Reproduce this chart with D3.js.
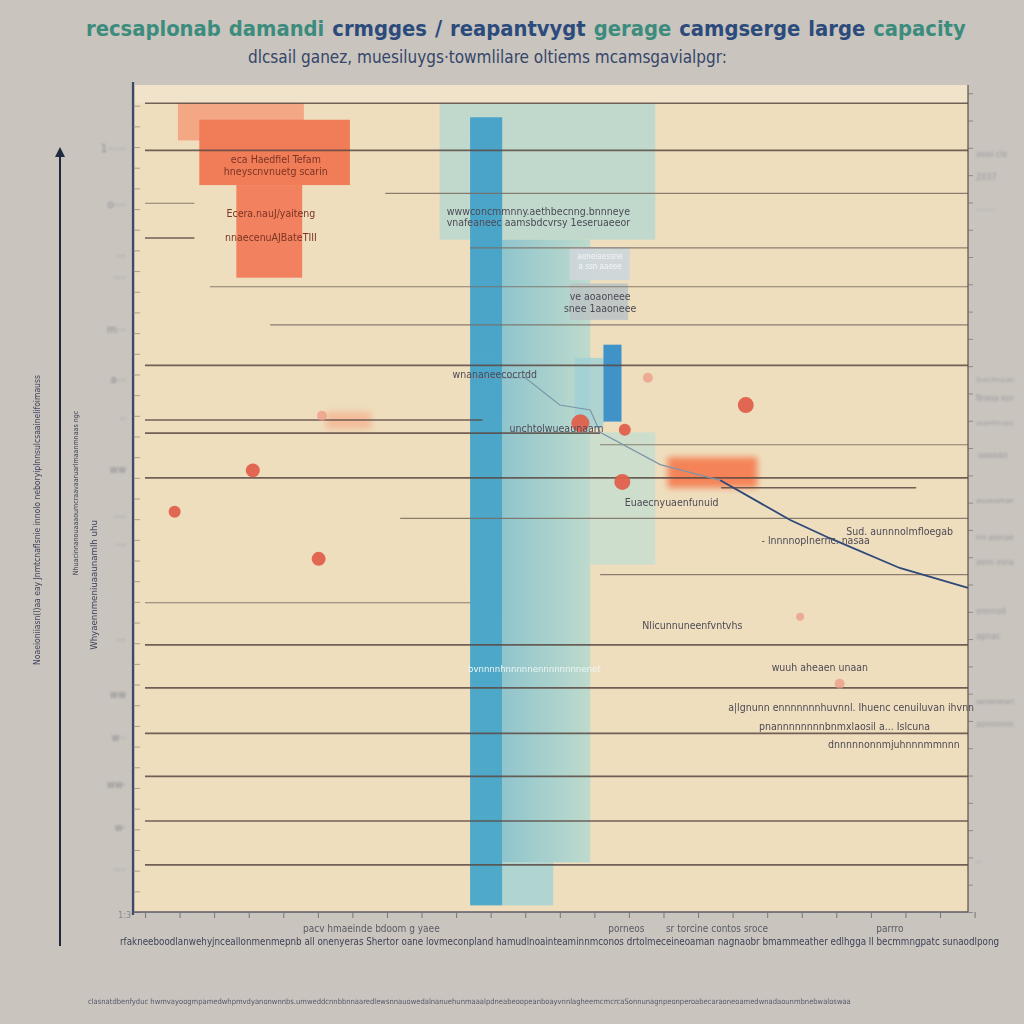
<!DOCTYPE html>
<html><head><meta charset="utf-8">
<script src="https://cdn.jsdelivr.net/npm/d3@7"></script>
<style>html,body{margin:0;padding:0;background:#c9c4bd;}svg{display:block;}</style>
</head><body>
<svg id="c" width="1024" height="1024"></svg>
<script>
// ---------- DATA (data units 0..100 on both axes) ----------
const titleParts = [
  {t:"recsaplonab", c:"teal"}, {t:"damandi", c:"teal"}, {t:"crmgges", c:"navy"},
  {t:"/", c:"navy"}, {t:"reapantvygt", c:"navy"}, {t:"gerage", c:"teal"},
  {t:"camgserge", c:"navy"}, {t:"large", c:"navy"}, {t:"capacity", c:"teal"}
];
const subtitle = "dlcsail ganez,  muesiluygs·towmlilare  oltiems  mcamsgavialpgr:";

const gridY     = [97.8, 92.1, 86.9, 85.7, 81.5, 80.3, 75.6, 71.0, 66.1, 59.5, 57.9, 56.5, 52.5, 51.3, 47.6, 40.8, 37.4, 32.3, 27.1, 21.6, 16.4, 11.0, 5.7];
const gridStart = [0,    0,    29.2, 0,    0,    39.5, 7.9,  15.2, 0,    0,    0,    55.3, 0,    70.0, 31.0, 55.3, 0,    0,    0,    0,    0,    0,    0];
const gridEnd   = [100,  100,  100,  6.0,  6.0,  100,  100,  100,  100,  41.0, 55.3, 100,  100,  93.7, 100,  100,  39.5, 100,  100,  100,  100,  100,  100];
const gridHeavy = [1,    1,    0,    0,    1,    0,    0,    0,    1,    1,    1,    0,    1,    1,    0,    0,    0,    1,    1,    1,    1,    1,    1];

// bars: [x0, x1, yTop, yBottom]
const barNames  = ["tealBack","orangeLight","orangeMain","orangeLow","tealWide","tealLow","blueMain","blueRight","blueSmallBack","blueSmall","orangeBlur","orangeFaint","grayBox1","grayBox2"];
const barX0     = [35.8, 4.0,  6.6,  11.1, 43.4, 43.4, 39.5, 54.1, 52.2, 55.7, 63.5, 22.0, 51.6, 51.6];
const barX1     = [62.0, 19.3, 24.9, 19.1, 54.1, 49.6, 43.4, 62.0, 55.7, 57.9, 74.4, 27.5, 58.9, 58.7];
const barTop    = [97.8, 97.8, 95.8, 87.9, 81.3, 6.0,  96.1, 58.0, 67.0, 68.6, 55.0, 60.5, 80.4, 76.0];
const barBottom = [81.3, 93.3, 87.9, 76.7, 6.0,  0.8,  0.8,  42.0, 58.5, 59.3, 51.3, 58.4, 76.4, 71.6];

// line series
const lineAX = [39.5, 46.2, 50.4, 54.1, 55.3, 62.6, 69.9];
const lineAY = [64.6, 64.6, 61.3, 60.7, 58.0, 54.1, 52.2];
const lineBX = [69.9, 78.4, 83.2, 91.7, 100];
const lineBY = [52.2, 47.4, 45.2, 41.6, 39.2];

// dots
const dotX = [3.6,  13.1, 21.1, 52.9, 58.3, 58.0, 73.0, 61.1, 21.5, 84.4, 79.6];
const dotY = [48.4, 53.4, 42.7, 59.1, 58.3, 52.0, 61.3, 64.6, 60.0, 27.6, 35.7];
const dotR = [6,    7,    7,    9,    6,    8,    8,    5,    5,    5,    4];
const dotFaint = [0,0,0,0,0,0,0,1,1,1,1];

// annotations
const annText = ["eca Haedfiel Tefam","hneyscnvnuetg scarin","Ecera.nauJ/yaiteng","nnaecenuAJBateTIII",
  "wwwconcmmnny.aethbecnng.bnnneye","vnafeaneec aamsbdcvrsy 1eseruaeeor","ve aoaoneee","snee 1aaoneee",
  "wnananeecocrtdd","unchtolwueaunaarn","Euaecnyuaenfunuid","Sud. aunnnolmfloegab","- lnnnnoplnernc. nasaa",
  "Nlicunnuneenfvntvhs","bvnnnnhnnnnnennnnnnnnenet","wuuh aheaen unaan",
  "a|lgnunn ennnnnnnhuvnnl. Ihuenc cenuiluvan ihvnn","pnannnnnnnnbnmxlaosil  a... Islcuna","dnnnnnonnmjuhnnnmmnnn",
  "aeneiaessne","a ssn aaeee"];
const annX = [15.9, 15.9, 15.3, 15.3, 47.8, 47.8, 55.3, 55.3, 42.5, 50.0, 64.0, 91.7, 81.5, 66.5, 47.3, 82.0, 85.8, 85.0, 91.0, 55.3, 55.3];
const annY = [90.6, 89.1, 84.0, 81.1, 84.3, 82.9, 74.0, 72.6, 64.6, 58.0, 49.1, 45.6, 44.5, 34.2, 29.0, 29.2, 24.3, 22.0, 19.8, 79.0, 77.8];

const leftTickLabels = ["1\u00b7\u00b7\u00b7\u00b7\u00b7\u00b7","o\u00b7\u00b7\u00b7\u00b7","\u00b7\u00b7\u00b7","\u00b7\u00b7\u00b7\u00b7","m\u00b7\u00b7\u00b7","a\u00b7\u00b7\u00b7","\u00b7\u00b7","ww","\u00b7\u00b7\u00b7\u00b7","\u00b7\u00b7\u00b7","\u00b7\u00b7\u00b7","ww","w\u00b7\u00b7","ww\u00b7","w\u00b7","\u00b7\u00b7\u00b7\u00b7"];
const leftTickY = [92.4, 85.6, 79.5, 76.8, 70.5, 64.5, 59.7, 53.6, 47.9, 44.5, 33.0, 26.4, 21.2, 15.5, 10.3, 5.2];
const rightTickLabels = ["aeoi cle","2037","\u00b7\u00b7\u00b7\u00b7\u00b7\u00b7\u00b7","Dvscrlrnscan","Nnesa esn","aeaarhhnvgry","\u00b7aasean","asuasaman","rrn  aesnae","aonn  esna","ennnsd","apnac","aaisenesan","aonnnnnn","\u00b7\u00b7"];
const rightTickY = [91.8, 89.0, 85.0, 64.6, 62.3, 59.4, 55.4, 50.0, 45.5, 42.5, 36.5, 33.5, 25.6, 22.8, 6.2];
const xTickLabels = ["pacv hmaeinde bdoom g yaee","porneos","sr torcine contos sroce","parrro"];
const xTickX = [27.5, 58.5, 69.5, 90.5];
const xLongLabel = "rfakneeboodlanwehyjnceallonmenmepnb all onenyeras  Shertor oane  lovmeconpland hamudlnoainteaminnmconos drtolmeceineoaman nagnaobr bmammeather edlhgga ll becmmngpatc sunaodlpong";
const footer = "clasnatdbenfyduc hwmvayoogmpamedwhpmvdyanonwnnbs.umweddcnnbbnnaaredlewsnnauowedalnanuehunmaaalpdneabeoopeanboayvnnlagheemcmcrcaSonnunagnpeonperoabecaraoneoamedwnadaounmbnebwaloswaa";
const yLabels = ["Noaeioniiasn(l)aa eay Jnmtcnaflsnie innolo neboryiplnnsulcsaainelifoimauss","Nhuacinnanouaaaoumcraavaaruarlmaanmnaas ngc","Whyaennmeniuaaunamlh uhu"];

// ---------- DRAWING ----------
const svg = d3.select("#c");
const W = 1024, H = 1024;
const P = {l:145, r:968, t:85, b:912};
const x = d3.scaleLinear().domain([0,100]).range([P.l, P.r]);
const y = d3.scaleLinear().domain([0,100]).range([P.b, P.t]);
const FN = "'Liberation Sans Narrow','DejaVu Sans Condensed','Liberation Sans',sans-serif";
const COL = {teal:"#3c8c7e", navy:"#2b4b7c"};

function fitSize(sel, width){ sel.each(function(){ const fs=+d3.select(this).attr("font-size"); const L=this.getComputedTextLength(); if(L>width) d3.select(this).attr("font-size", fs*width/L); }); }

const defs = svg.append("defs");
function blur(id, s){ defs.append("filter").attr("id",id).attr("x","-20%").attr("y","-50%").attr("width","140%").attr("height","200%")
  .append("feGaussianBlur").attr("stdDeviation",s); }
blur("b1",1.2); blur("b2",0.5); blur("b3",3);
const gBlue = defs.append("linearGradient").attr("id","gBlue").attr("x1",0).attr("x2",0).attr("y1",0).attr("y2",1);
gBlue.append("stop").attr("offset","0").attr("stop-color","#4aa4c9");
gBlue.append("stop").attr("offset","1").attr("stop-color","#4fa9c8");
const gTeal = defs.append("linearGradient").attr("id","gTeal").attr("x1",0).attr("x2",1);
gTeal.append("stop").attr("offset","0").attr("stop-color","#7fc0cf");
gTeal.append("stop").attr("offset","1").attr("stop-color","#b5dacf");

svg.append("rect").attr("width",W).attr("height",H).attr("fill","#c9c4bd");

svg.append("rect").attr("x",135).attr("y",P.t).attr("width",P.r-135).attr("height",P.b-P.t).attr("fill","#eedebe");
svg.append("rect").attr("x",135).attr("y",P.t).attr("width",P.r-135).attr("height",y(97.8)-P.t).attr("fill","#f0e3c9");

const barFill = {tealBack:"#b7d8cf",orangeLight:"#f3a784",orangeMain:"#f17c58",orangeLow:"#f2815f",tealWide:"url(#gTeal)",tealLow:"#a8d4d2",
  blueMain:"url(#gBlue)",blueRight:"#bfded2",blueSmallBack:"#9fcfd6",blueSmall:"#3f93c8",orangeBlur:"#f57a4e",orangeFaint:"#f4b08c",
  grayBox1:"#cdd6da",grayBox2:"#bac4c4"};
const barOp = {tealBack:0.85,orangeLight:1,orangeMain:1,orangeLow:1,tealWide:0.85,tealLow:0.9,blueMain:1,blueRight:0.7,blueSmallBack:0.8,blueSmall:1,orangeBlur:0.9,orangeFaint:0.7,grayBox1:0.95,grayBox2:0.9};
const bars = barNames.map((n,i)=>({n, x0:barX0[i], x1:barX1[i], t:barTop[i], b:barBottom[i]}));
svg.append("g").selectAll("rect").data(bars).join("rect")
  .attr("x",d=>x(d.x0)).attr("y",d=>y(d.t)).attr("width",d=>x(d.x1)-x(d.x0)).attr("height",d=>y(d.b)-y(d.t))
  .attr("fill",d=>barFill[d.n]).attr("opacity",d=>barOp[d.n])
  .attr("filter",d=>(d.n==="orangeBlur"||d.n==="orangeFaint")?"url(#b3)":null);

const grid = gridY.map((v,i)=>({v, a:gridStart[i], b:gridEnd[i], h:gridHeavy[i]}));
svg.append("g").selectAll("line").data(grid).join("line")
  .attr("x1",d=>x(d.a)).attr("x2",d=>x(d.b)).attr("y1",d=>y(d.v)).attr("y2",d=>y(d.v))
  .attr("stroke",d=>d.h?"#5b4a43":"#7a6c62").attr("stroke-width",d=>d.h?1.6:1.1).attr("opacity",0.85);

const lineGen = d3.line().x(d=>x(d[0])).y(d=>y(d[1]));
svg.append("path").datum(lineAX.map((v,i)=>[v,lineAY[i]])).attr("d",lineGen)
  .attr("fill","none").attr("stroke","#7d95a8").attr("stroke-width",1.2);
svg.append("path").datum(lineBX.map((v,i)=>[v,lineBY[i]])).attr("d",lineGen)
  .attr("fill","none").attr("stroke","#2e4878").attr("stroke-width",1.8);

svg.append("g").selectAll("circle").data(dotX.map((v,i)=>({x:v,y:dotY[i],r:dotR[i],f:dotFaint[i]}))).join("circle")
  .attr("cx",d=>x(d.x)).attr("cy",d=>y(d.y)).attr("r",d=>d.r)
  .attr("fill",d=>d.f?"#ee9a84":"#e0604c").attr("opacity",d=>d.f?0.75:0.95);

svg.append("g").selectAll("text").data(annText.map((t,i)=>({t,x:annX[i],y:annY[i],i}))).join("text")
  .attr("x",d=>x(d.x)).attr("y",d=>y(d.y)).attr("text-anchor","middle")
  .attr("font-family",FN).attr("font-size",d=>d.i<2?10.5:(d.i===14?9.5:(d.i>=19?8:10.5)))
  .attr("fill",d=>d.i<4?"#7a3424":(d.i===14?"#eef6f6":(d.i>=19?"#f4f6f8":"#4d4a55")))
  .attr("filter","url(#b2)").text(d=>d.t);

svg.append("line").attr("x1",133).attr("x2",133).attr("y1",82).attr("y2",915).attr("stroke","#3a4a66").attr("stroke-width",2.2);
const yAxis = d3.axisLeft(y).tickValues(d3.range(0,100,2.5)).tickSize(-7).tickFormat("");
svg.append("g").attr("transform","translate(133,0)").call(yAxis).call(g=>{g.select(".domain").remove();g.selectAll("line").attr("stroke","#777").attr("opacity",0.6);});
svg.append("g").selectAll("text").data(leftTickLabels.map((t,i)=>({t,v:leftTickY[i]}))).join("text")
  .attr("x",126).attr("y",d=>y(d.v)+4).attr("text-anchor","end").attr("font-family",FN).attr("font-size",11)
  .attr("fill","#8a8a92").attr("filter","url(#b1)").text(d=>d.t);

svg.append("line").attr("x1",P.r).attr("x2",P.r).attr("y1",P.t).attr("y2",P.b).attr("stroke","#5e5048").attr("stroke-width",1.2);
const yAxisR = d3.axisRight(y).tickValues(d3.range(0,100,3.3)).tickSize(5).tickFormat("");
svg.append("g").attr("transform",`translate(${P.r},0)`).call(yAxisR).call(g=>{g.select(".domain").remove();g.selectAll("line").attr("stroke","#666").attr("opacity",0.6);});
svg.append("g").selectAll("text").data(rightTickLabels.map((t,i)=>({t,v:rightTickY[i]}))).join("text")
  .attr("x",976).attr("y",d=>y(d.v)+4).attr("font-family",FN).attr("font-size",9)
  .attr("fill","#9a9aa0").attr("filter","url(#b1)").text(d=>d.t).call(fitSize, 38);

const xAxis = d3.axisBottom(x).tickValues(d3.range(0,101,4.2)).tickSize(6).tickFormat("");
svg.append("g").attr("transform",`translate(0,${P.b})`).call(xAxis)
  .call(g=>{g.select(".domain").attr("stroke","#5a5a6a").attr("stroke-width",1.4).attr("d",`M133,0H${P.r}`);g.selectAll("line").attr("stroke","#777");});
svg.append("text").attr("x",118).attr("y",918).attr("font-family",FN).attr("font-size",9).attr("fill","#888").text("1:3");
svg.append("g").selectAll("text").data(xTickLabels.map((t,i)=>({t,v:xTickX[i]}))).join("text")
  .attr("x",d=>x(d.v)).attr("y",932).attr("text-anchor","middle").attr("font-family",FN).attr("font-size",10)
  .attr("fill","#5a5a66").attr("filter","url(#b2)").text(d=>d.t);
svg.append("text").attr("x",120).attr("y",945)
  .attr("font-family",FN).attr("font-size",11.5).attr("fill","#3f4258").attr("filter","url(#b2)").text(xLongLabel).call(fitSize, 880);

svg.append("text").attr("x",88).attr("y",1004)
  .attr("font-family",FN).attr("font-size",10).attr("fill","#55586a").attr("filter","url(#b2)").text(footer).call(fitSize, 765);

defs.append("marker").attr("id","arr").attr("viewBox","0 0 10 10").attr("refX",5).attr("refY",5)
  .attr("markerWidth",5).attr("markerHeight",5).attr("orient","auto-start-reverse")
  .append("path").attr("d","M0,0L10,5L0,10z").attr("fill","#1f2a40");
svg.append("line").attr("x1",60).attr("x2",60).attr("y1",946).attr("y2",152).attr("stroke","#1f2a40").attr("stroke-width",2).attr("marker-end","url(#arr)");

const yLabPos = [[40,520,290],[78,493,165],[97,585,130]];
svg.append("g").selectAll("text").data(yLabels.map((t,i)=>({t,p:yLabPos[i]}))).join("text")
  .attr("transform",d=>`translate(${d.p[0]},${d.p[1]}) rotate(-90)`).attr("text-anchor","middle")
  .attr("font-family",FN).attr("font-size",11).attr("fill","#3c3f58").attr("filter","url(#b2)").text(d=>d.t)
  .each(function(d){ const L=this.getComputedTextLength(); d3.select(this).attr("font-size", 11*Math.min(1, d.p[2]/L)); });

const tEls = svg.append("g").selectAll("text").data(titleParts).join("text")
  .attr("y",36).attr("font-family",FN).attr("font-weight","bold").attr("font-size",27)
  .attr("fill",d=>COL[d.c]).text(d=>d.t);
const widths = []; tEls.each(function(){ widths.push(this.getComputedTextLength()); });
const gap = 8, avail = 880 - gap*(widths.length-1);
const k = Math.min(1, avail/d3.sum(widths));
tEls.attr("font-size", 27*k);
let cx = 86;
tEls.each(function(d,i){ d3.select(this).attr("x",cx); cx += this.getComputedTextLength() + gap; });

svg.append("text").attr("x",248).attr("y",63)
  .attr("font-family",FN).attr("font-size",17).attr("fill","#34466a").text(subtitle).call(fitSize, 527);
</script>
</body></html>
